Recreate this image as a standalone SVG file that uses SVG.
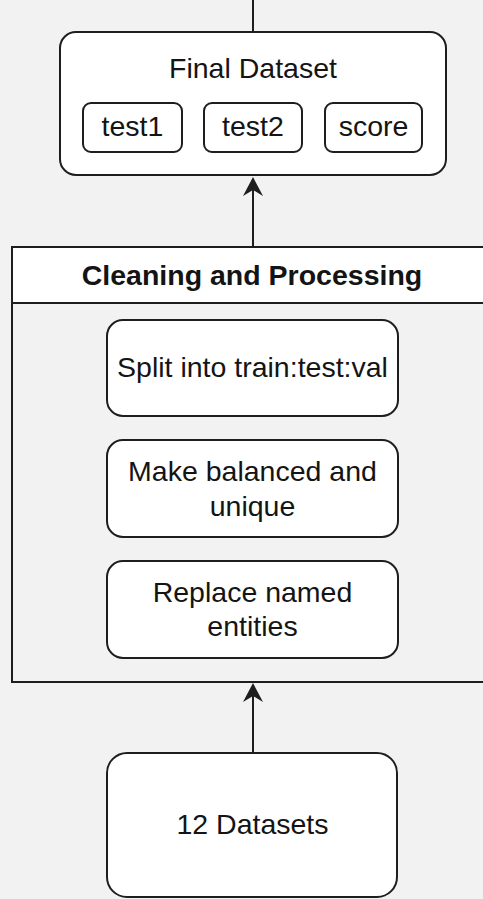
<svg xmlns="http://www.w3.org/2000/svg" width="483" height="899" viewBox="0 0 483 899">
  <style>
    .bg { fill: #f2f2f2; }
    .box { fill: #ffffff; stroke: #1e1e1e; stroke-width: 2; }
    .lane { fill: #f2f2f2; stroke: #1e1e1e; stroke-width: 2; }
    .head { fill: #ffffff; stroke: #1e1e1e; stroke-width: 2; }
    .edge { fill: none; stroke: #1e1e1e; stroke-width: 2; }
    text { font-family: "Liberation Sans", Arial, Helvetica, sans-serif; font-size: 28.5px; fill: #141414; text-anchor: middle; }
    .bold { font-weight: bold; }
  </style>
  <defs>
    <marker id="arrow" markerUnits="userSpaceOnUse" markerWidth="22" markerHeight="22" viewBox="-20 -11 22 22" refX="-13" refY="0" orient="auto">
      <path d="M0,0 L-19,-10 L-13,0 L-19,10 Z" fill="#1e1e1e"/>
    </marker>
  </defs>

  <rect class="bg" x="0" y="0" width="483" height="899"/>

  <!-- connectors -->
  <g id="connectors">
    <line class="edge" x1="253" y1="0" x2="253" y2="32"/>
    <line class="edge" x1="253" y1="247" x2="253" y2="190" marker-end="url(#arrow)"/>
    <line class="edge" x1="253" y1="753" x2="253" y2="696" marker-end="url(#arrow)"/>
  </g>

  <!-- final dataset with its three fields -->
  <g id="final-dataset">
    <rect class="box" x="60" y="32" width="386" height="143" rx="16" ry="16"/>
    <text x="253" y="78">Final Dataset</text>
    <g id="field-test1">
      <rect class="box" x="83" y="103" width="99" height="49" rx="8" ry="8"/>
      <text x="132.5" y="136">test1</text>
    </g>
    <g id="field-test2">
      <rect class="box" x="204" y="103" width="98" height="49" rx="8" ry="8"/>
      <text x="253" y="136">test2</text>
    </g>
    <g id="field-score">
      <rect class="box" x="325" y="103" width="97" height="49" rx="8" ry="8"/>
      <text x="373.5" y="136">score</text>
    </g>
  </g>

  <!-- processing container -->
  <g id="cleaning-processing">
    <rect class="lane" x="12" y="247" width="482" height="435"/>
    <rect class="head" x="12" y="247" width="482" height="56"/>
    <text class="bold" x="252" y="285">Cleaning and Processing</text>
  </g>

  <g id="split">
    <rect class="box" x="107" y="320" width="291" height="96" rx="16" ry="16"/>
    <text x="252.5" y="377">Split into train:test:val</text>
  </g>

  <g id="balance">
    <rect class="box" x="107" y="440" width="291" height="97" rx="16" ry="16"/>
    <text x="252.5" y="481">Make balanced and</text>
    <text x="252.5" y="516">unique</text>
  </g>

  <g id="replace">
    <rect class="box" x="107" y="561" width="291" height="97" rx="16" ry="16"/>
    <text x="252.5" y="602">Replace named</text>
    <text x="252.5" y="636">entities</text>
  </g>

  <g id="datasets">
    <rect class="box" x="107" y="753" width="290" height="144" rx="20" ry="20"/>
    <text x="252.5" y="834">12 Datasets</text>
  </g>
</svg>
